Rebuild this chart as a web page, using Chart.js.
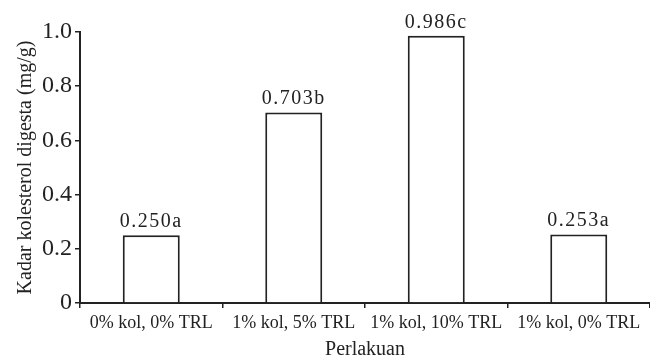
<!DOCTYPE html>
<html>
<head>
<meta charset="utf-8">
<script src="https://cdn.jsdelivr.net/npm/chart.js@4/dist/chart.umd.min.js"></script>
<style>
  html, body { margin: 0; padding: 0; background: #fff; }
  #wrap { width: 650px; height: 360px; }
</style>
</head>
<body>
<div id="wrap"><canvas id="c" width="650" height="360"></canvas></div>
<script>
// Treatments and digesta cholesterol content (mg/g)
const categories = ['0% kol, 0% TRL', '1% kol, 5% TRL', '1% kol, 10% TRL', '1% kol, 0% TRL'];
const values = [0.250, 0.703, 0.986, 0.253];
const letters = ['a', 'b', 'c', 'a'];
const yTicks = [0, 0.2, 0.4, 0.6, 0.8, 1.0];

const INK = '#222';
const SERIF = '"Liberation Serif", "Times New Roman", serif';

// Value + significance letter above each bar
const valueLabels = {
  id: 'valueLabels',
  afterDatasetsDraw(chart) {
    const ctx = chart.ctx;
    const meta = chart.getDatasetMeta(0);
    ctx.save();
    ctx.font = '20px ' + SERIF;
    ctx.letterSpacing = '1.5px';
    ctx.fillStyle = INK;
    ctx.textAlign = 'center';
    ctx.textBaseline = 'alphabetic';
    meta.data.forEach((bar, i) => {
      ctx.fillText(values[i].toFixed(3) + letters[i], bar.x, bar.y - 8);
    });
    ctx.restore();
  }
};

new Chart(document.getElementById('c'), {
  type: 'bar',
  data: {
    labels: categories,
    datasets: [{
      data: values,
      backgroundColor: '#fff',
      borderColor: INK,
      borderWidth: 2,
      barPercentage: 0.4,
      categoryPercentage: 1
    }]
  },
  options: {
    responsive: false,
    animation: false,
    layout: { padding: { top: 32, right: 0, bottom: 0, left: 0 } },
    plugins: { legend: { display: false }, tooltip: { enabled: false } },
    scales: {
      x: {
        offset: true,
        grid: { display: true, drawOnChartArea: false, drawTicks: true, tickLength: 5, color: INK, lineWidth: 1.5, offset: true },
        border: { display: true, color: INK, width: 2 },
        ticks: { color: INK, font: { family: SERIF, size: 18 }, padding: 4, maxRotation: 0, autoSkip: false },
        title: { display: true, text: 'Perlakuan', color: INK, font: { family: SERIF, size: 20, lineHeight: 1 }, padding: { top: 0, bottom: 0 } },
        afterFit(scale) { scale.height = 57; }
      },
      y: {
        min: 0,
        max: 1,
        afterBuildTicks(scale) { scale.ticks = yTicks.map(v => ({ value: v })); },
        grid: { display: true, drawOnChartArea: false, drawTicks: true, tickLength: 5, color: INK, lineWidth: 1.5 },
        border: { display: true, color: INK, width: 2 },
        ticks: {
          color: INK,
          font: { family: SERIF, size: 24 },
          padding: 3,
          callback: v => v === 0 ? '0' : v.toFixed(1)
        },
        title: { display: true, text: 'Kadar kolesterol digesta (mg/g)', color: INK, font: { family: SERIF, size: 20, lineHeight: 1.2 }, padding: { top: 14, bottom: 0 } },
        afterFit(scale) { scale.width = 80; }
      }
    }
  },
  plugins: [valueLabels]
});
</script>
</body>
</html>
